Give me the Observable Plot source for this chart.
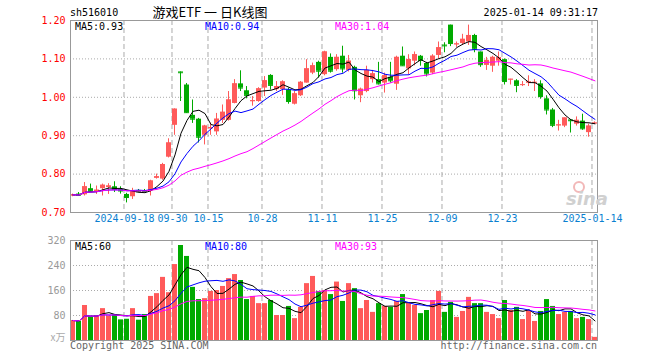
<!DOCTYPE html>
<html><head><meta charset="utf-8">
<script src="https://cdn.jsdelivr.net/npm/d3@7"></script>
<script src="https://cdn.jsdelivr.net/npm/@observablehq/plot@0.6"></script>
<style>
body{margin:0;background:#fff;width:660px;height:360px;position:relative;overflow:hidden;font-family:"DejaVu Sans Mono",monospace;}
#price{position:absolute;left:0;top:0}
#vol{position:absolute;left:0;top:232px}
</style></head><body>
<div id="price"></div><div id="vol"></div>
<script>
// ---- data ----
const open  = [0.743,0.748,0.746,0.762,0.755,0.762,0.765,0.767,0.760,0.747,0.741,0.757,0.757,0.756,0.789,0.787,0.844,0.927,1.066,1.032,0.953,0.943,0.901,0.918,0.910,0.940,0.940,0.984,1.035,1.017,0.989,0.989,1.024,1.057,1.020,1.020,1.019,0.982,1.004,1.037,1.063,1.091,1.059,1.104,1.072,1.107,1.070,1.078,1.004,1.015,1.046,1.046,1.037,1.052,1.034,1.107,1.074,1.094,1.107,1.088,1.063,1.109,1.136,1.188,1.137,1.140,1.144,1.161,1.118,1.083,1.081,1.094,1.098,1.046,1.043,1.032,1.037,1.038,1.035,0.996,0.967,0.926,0.925,0.941,0.930,0.938,0.908,0.931];
const close = [0.746,0.745,0.767,0.755,0.758,0.771,0.769,0.760,0.756,0.739,0.754,0.754,0.755,0.782,0.793,0.825,0.881,0.969,1.064,0.960,0.943,0.896,0.925,0.921,0.943,0.961,0.993,1.035,1.024,1.005,0.991,1.022,1.043,1.031,1.028,1.040,0.989,1.009,1.039,1.074,1.082,1.068,1.118,1.068,1.104,1.074,1.094,1.017,1.021,1.070,1.061,1.035,1.056,1.043,1.104,1.082,1.098,1.111,1.096,1.061,1.107,1.129,1.134,1.140,1.139,1.151,1.161,1.125,1.085,1.096,1.104,1.103,1.041,1.047,1.031,1.033,1.040,1.039,1.002,0.967,0.927,0.928,0.946,0.939,0.940,0.918,0.925,0.933];
const high  = [0.748,0.752,0.778,0.774,0.769,0.774,0.775,0.780,0.767,0.750,0.763,0.760,0.760,0.784,0.800,0.828,0.892,0.970,1.066,1.036,0.993,0.945,0.927,0.933,0.958,0.980,1.015,1.046,1.069,1.028,1.002,1.025,1.054,1.059,1.041,1.043,1.024,1.015,1.041,1.098,1.089,1.094,1.120,1.113,1.111,1.133,1.109,1.081,1.024,1.081,1.070,1.091,1.063,1.091,1.107,1.131,1.111,1.118,1.109,1.091,1.111,1.144,1.142,1.188,1.144,1.164,1.188,1.164,1.118,1.104,1.107,1.118,1.100,1.047,1.046,1.041,1.056,1.046,1.043,1.004,0.971,0.940,0.946,0.942,0.949,0.956,0.930,0.936];
const low   = [0.741,0.742,0.743,0.752,0.747,0.743,0.747,0.752,0.748,0.725,0.734,0.752,0.753,0.743,0.787,0.784,0.842,0.901,0.989,0.958,0.932,0.881,0.876,0.901,0.901,0.932,0.938,0.983,1.015,0.996,0.977,0.987,1.002,1.019,1.015,1.005,0.982,0.980,1.002,1.037,1.059,1.050,1.056,1.063,1.068,1.063,1.066,0.993,0.986,1.012,1.037,1.032,1.011,1.037,1.018,1.081,1.059,1.082,1.081,1.053,1.059,1.100,1.116,1.132,1.130,1.135,1.135,1.116,1.078,1.070,1.065,1.081,1.032,1.032,1.012,1.028,1.028,1.015,0.995,0.954,0.921,0.912,0.921,0.907,0.925,0.914,0.896,0.929];
const volume = [64,61,112,75,79,102,78,82,66,68,102,65,83,141,150,202,153,243,304,269,170,131,134,157,160,173,198,211,192,131,141,118,118,128,80,80,109,70,106,182,205,157,160,147,187,125,182,166,102,128,90,118,109,106,125,147,118,112,86,96,128,157,90,122,74,93,138,118,118,90,83,70,128,96,106,67,96,61,93,131,109,83,90,93,70,74,67,10];
const tickIndex  = [9,17,23,32,42,52,62,72,87];
const tickLabels = ["2024-09-18","09-30","10-15","10-28","11-11","11-25","12-09","12-23","2025-01-14"];
const priceTicks = [0.70,0.80,0.90,1.00,1.10,1.20];
const volTicks   = [80,160,240,320];
const maWindows  = [5,10,30];
const maColors   = ["#000000","#0000ff","#ff00ff"];
const priceMaLabels = ["MA5:0.93","MA10:0.94","MA30:1.04"];
const volMaLabels   = ["MA5:60","MA10:80","MA30:93"];

// ---- build ----
const RED = "#ff5a5a", GREEN = "#00aa00";
const N = open.length;
const data = d3.range(N).map(i => ({i, open: open[i], close: close[i], high: high[i], low: low[i], vol: volume[i], up: close[i] >= open[i]}));
const half = 0.4167;
const xDomain = [-half, N - 1 + half];
const ticks = tickIndex.map((i, k) => ({x: i - half, label: tickLabels[k]}));
const col = d => d.up ? RED : GREEN;
const FONT = "DejaVu Sans Mono";

const maMarks = (field) => maWindows.map((k, j) =>
  Plot.lineY(data, Plot.windowY({k, anchor: "end", reduce: "mean"}, {x: "i", y: field, stroke: maColors[j], strokeWidth: 1})));

const price = Plot.plot({
  width: 660, height: 232, marginLeft: 70, marginRight: 63, marginTop: 20, marginBottom: 20,
  x: {domain: xDomain, axis: null},
  y: {domain: [0.7, 1.2], axis: null},
  color: {type: "identity"},
  style: {fontFamily: FONT, fontSize: "10px", background: "transparent", overflow: "visible"},
  marks: [
    Plot.ruleY(priceTicks.slice(1, -1), {stroke: "#aaa", strokeDasharray: "1,2"}),
    Plot.ruleX(ticks, {x: "x", stroke: "#aaa", strokeDasharray: "5,3", dx: -0.5}),
    Plot.ruleX(data, {x: "i", y1: "low", y2: "high", stroke: col, dx: -0.5}),
    Plot.rect(data, {x1: d => d.i - half, x2: d => d.i + half, y1: "open", y2: "close", fill: col}),
    Plot.ruleY(data, {x1: d => d.i - half, x2: d => d.i + half, y: "close", stroke: col}),
    ...maMarks("close"),
    Plot.frame({stroke: "#999"}),
    Plot.text(priceTicks, {y: d => d, frameAnchor: "left", textAnchor: "end", dx: -5, text: d => d.toFixed(2), fill: "#ff0000"}),
    Plot.text(ticks, {x: "x", frameAnchor: "bottom", dy: 9, text: "label", fill: "#0a7fd0"})
  ]
});
document.getElementById("price").append(price);

const vol = Plot.plot({
  width: 660, height: 128, marginLeft: 70, marginRight: 63, marginTop: 8, marginBottom: 20,
  x: {domain: xDomain, axis: null},
  y: {domain: [0, 320], axis: null},
  color: {type: "identity"},
  style: {fontFamily: FONT, fontSize: "10px", background: "transparent", overflow: "visible"},
  marks: [
    Plot.ruleY(volTicks.slice(0, -1), {stroke: "#aaa", strokeDasharray: "1,2"}),
    Plot.ruleX(ticks, {x: "x", stroke: "#aaa", strokeDasharray: "5,3", dx: -0.5}),
    Plot.rect(data, {x1: d => d.i - half, x2: d => d.i + half, y1: 0, y2: "vol", fill: col}),
    ...maMarks("vol"),
    Plot.frame({stroke: "#999"}),
    Plot.text(volTicks, {y: d => d, frameAnchor: "left", textAnchor: "end", dx: -5, text: d => String(d), fill: "#999"}),
    Plot.text(["x万"], {frameAnchor: "bottom-left", textAnchor: "end", dx: -5, dy: 0, text: d => d, fill: "#aaa", fontFamily: "Noto Sans CJK SC"})
  ]
});
document.getElementById("vol").append(vol);

// ---- text overlay ----
const ov = d3.select("body").append("svg").attr("width", 660).attr("height", 360)
  .style("position", "absolute").style("left", 0).style("top", 0).style("pointer-events", "none")
  .attr("font-family", FONT).attr("font-size", 10);
function txt(x, y, s, color, anchor = "start", extra = {}) {
  const t = ov.append("text").attr("x", x).attr("y", y).attr("fill", color).attr("text-anchor", anchor).style("white-space", "pre").text(s);
  for (const k in extra) t.attr(k, extra[k]);
  return t;
}
txt(70, 16, "sh516010", "#000");
txt(210, 17, "游戏ETF 一 日K线图", "#000", "middle", {"font-size": 13, "font-family": "'Noto Sans CJK SC', sans-serif"});
txt(598, 16, "2025-01-14 09:31:17", "#000", "end");
const maX = [75, 205, 335];
priceMaLabels.forEach((s, j) => txt(maX[j], 30, s, maColors[j]));
volMaLabels.forEach((s, j) => txt(maX[j], 250, s, maColors[j]));
txt(70, 349, "Copyright 2025 SINA.COM", "#666");
txt(597, 349, "http://finance.sina.com.cn", "#666", "end");
// watermark
ov.append("circle").attr("cx", 579).attr("cy", 187).attr("r", 5).attr("fill", "none").attr("stroke", "#f2b8b8").attr("stroke-width", 2);
txt(566, 205, "sina", "#d0d0d0", "start", {"font-size": 18, "font-style": "italic", "font-weight": "bold", "font-family": "'DejaVu Sans', sans-serif"});
</script>
</body></html>
